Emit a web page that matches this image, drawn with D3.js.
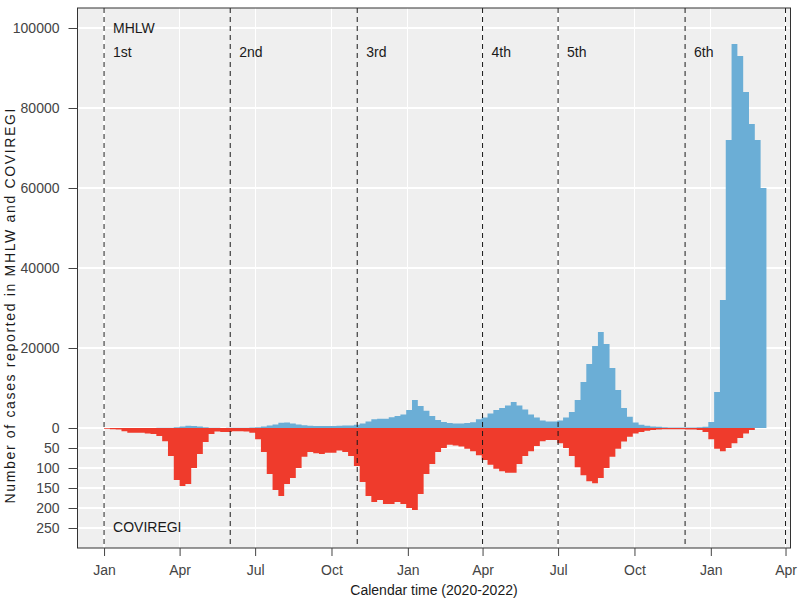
<!DOCTYPE html>
<html>
<head>
<meta charset="utf-8">
<script src="https://cdn.jsdelivr.net/npm/d3@7"></script>
<style>
  body { margin: 0; background: #fff; }
  text { font-family: "Liberation Sans", Arial, sans-serif; }
</style>
</head>
<body>
<div id="chart-area"></div>
<script>
// weekly values, first week starts 2020-01-01
var weekStart = new Date(2020, 0, 1);

// daily cases reported to MHLW (weekly level)
var mhlwWeekly = [
  0, 0, 1, 2, 2, 3, 5, 10, 20, 35,
  45, 60, 200, 350, 550, 500, 350, 200, 80, 40,
  30, 35, 40, 50, 60, 100, 200, 350, 600, 900,
  1300, 1350, 1150, 900, 700, 550, 520, 500, 500, 520,
  550, 600, 650, 800, 1100, 1600, 2200, 2300, 2300, 2700,
  3000, 3400, 4500, 7000, 5500, 4300, 3000, 2000, 1500, 1250,
  1100, 1100, 1250, 1450, 2200, 2600, 3600, 4500, 5000, 5600,
  6500, 5600, 4600, 3400, 2600, 1900, 1600, 1600, 1900, 2600,
  4000, 7000, 11500, 16000, 20500, 24000, 21000, 15000, 9500, 5000,
  2800, 1400, 800, 550, 400, 300, 200, 150, 130, 130,
  140, 150, 170, 300, 1500, 9000, 32000, 72000, 96000, 93000,
  84000, 76000, 72000, 60000
];

// daily cases registered in COVIREGI
var coviregiWeekly = [
  2, 3, 4, 8, 12, 12, 12, 14, 15, 20,
  33, 70, 130, 145, 140, 100, 65, 35, 15, 9,
  10, 10, 8, 8, 9, 12, 28, 60, 115, 155,
  170, 140, 125, 100, 72, 60, 63, 65, 62, 62,
  56, 60, 70, 95, 135, 170, 185, 180, 190, 190,
  185, 190, 200, 205, 165, 115, 90, 60, 50, 42,
  44, 46, 52, 58, 68, 80, 92, 102, 108, 112,
  112, 90, 70, 58, 45, 33, 30, 30, 38, 50,
  70, 98, 118, 133, 138, 125, 100, 72, 52, 34,
  22, 14, 10, 7, 5, 4, 3, 3, 3, 3,
  4, 4, 5, 10, 28, 52, 58, 50, 38, 25,
  14, 5
];

var waveDates = ["2020-01-01", "2020-06-01", "2020-11-01", "2021-04-01", "2021-07-01", "2021-12-01", "2022-04-01"];
var waveLabels = ["1st", "2nd", "3rd", "4th", "5th", "6th"];

var monthTickDates = ["2020-01-01", "2020-04-01", "2020-07-01", "2020-10-01",
                      "2021-01-01", "2021-04-01", "2021-07-01", "2021-10-01",
                      "2022-01-01", "2022-04-01"];
var monthTickLabels = ["Jan", "Apr", "Jul", "Oct", "Jan", "Apr", "Jul", "Oct", "Jan", "Apr"];

var upperTicks = [0, 20000, 40000, 60000, 80000, 100000];
var lowerTicks = [50, 100, 150, 200, 250];

var parseDate = d3.timeParse("%Y-%m-%d");
var width = 800, height = 600;
var pLeft = 77.5, pRight = 790.5, pTop = 8, pBottom = 548, zeroY = 428;

var svg = d3.select("#chart-area").append("svg")
    .attr("width", width)
    .attr("height", height);

var x = d3.scaleTime()
    .domain([new Date(2019, 10, 30), new Date(2022, 3, 7)])
    .range([pLeft, pRight]);

var yTop = d3.scaleLinear().domain([0, 105000]).range([zeroY, pTop]);
var yBot = d3.scaleLinear().domain([0, 300]).range([zeroY, pBottom]);

// panel background
svg.append("rect")
    .attr("x", pLeft).attr("y", pTop)
    .attr("width", pRight - pLeft).attr("height", pBottom - pTop)
    .attr("fill", "#efefef");

// grid
var grid = svg.append("g").attr("shape-rendering", "crispEdges");
upperTicks.forEach(function(t) {
  grid.append("line").attr("x1", pLeft).attr("x2", pRight)
      .attr("y1", yTop(t)).attr("y2", yTop(t))
      .attr("stroke", "#fff").attr("stroke-width", 1.2);
});
lowerTicks.forEach(function(t) {
  grid.append("line").attr("x1", pLeft).attr("x2", pRight)
      .attr("y1", yBot(t)).attr("y2", yBot(t))
      .attr("stroke", "#fff").attr("stroke-width", 1.2);
});
monthTickDates.forEach(function(d) {
  grid.append("line").attr("y1", pTop).attr("y2", pBottom)
      .attr("x1", x(parseDate(d))).attr("x2", x(parseDate(d)))
      .attr("stroke", "#fff").attr("stroke-width", 1.2);
});

function toSeries(vals) {
  var s = vals.map(function(v, i) {
    return {date: d3.timeDay.offset(weekStart, 7 * i), value: v};
  });
  // close the last step
  s.push({date: d3.timeDay.offset(weekStart, 7 * vals.length), value: vals[vals.length - 1]});
  return s;
}

var mhlw = toSeries(mhlwWeekly);
var coviregi = toSeries(coviregiWeekly);

svg.append("path")
    .datum(mhlw)
    .attr("fill", "#6baed6")
    .attr("d", d3.area()
        .curve(d3.curveStepAfter)
        .x(function(d) { return x(d.date); })
        .y0(zeroY)
        .y1(function(d) { return yTop(d.value); }));

svg.append("path")
    .datum(coviregi)
    .attr("fill", "#ef3b2c")
    .attr("d", d3.area()
        .curve(d3.curveStepAfter)
        .x(function(d) { return x(d.date); })
        .y0(zeroY)
        .y1(function(d) { return yBot(d.value); }));

// wave boundaries
waveDates.forEach(function(d, i) {
  var xx = x(parseDate(d));
  svg.append("line")
      .attr("x1", xx).attr("x2", xx)
      .attr("y1", pTop).attr("y2", pBottom)
      .attr("stroke", "#1a1a1a")
      .attr("stroke-width", 1)
      .attr("stroke-dasharray", "5,4");
  if (i < waveLabels.length) {
    svg.append("text")
        .attr("x", xx + 9).attr("y", 57)
        .attr("font-size", "14px")
        .attr("fill", "#1a1a1a")
        .text(waveLabels[i]);
  }
});

svg.append("text")
    .attr("x", x(parseDate(waveDates[0])) + 9).attr("y", 33)
    .attr("font-size", "14px").attr("fill", "#1a1a1a")
    .text("MHLW");

svg.append("text")
    .attr("x", x(parseDate(waveDates[0])) + 9).attr("y", 532)
    .attr("font-size", "14px").attr("fill", "#1a1a1a")
    .text("COVIREGI");

// panel border
svg.append("rect")
    .attr("x", pLeft).attr("y", pTop)
    .attr("width", pRight - pLeft).attr("height", pBottom - pTop)
    .attr("fill", "none")
    .attr("stroke", "#333")
    .attr("stroke-width", 1);

// axes
function styleAxis(g) {
  g.select(".domain").remove();
  g.selectAll(".tick line").attr("stroke", "#444");
  g.selectAll(".tick text")
      .attr("fill", "#444")
      .attr("font-size", "14px")
      .attr("font-family", "Liberation Sans, Arial, sans-serif");
}

svg.append("g")
    .attr("transform", "translate(" + pLeft + ",0)")
    .call(d3.axisLeft(yTop).tickValues(upperTicks).tickSize(9).tickPadding(9).tickFormat(d3.format("d")))
    .call(styleAxis);

svg.append("g")
    .attr("transform", "translate(" + pLeft + ",0)")
    .call(d3.axisLeft(yBot).tickValues(lowerTicks).tickSize(9).tickPadding(9).tickFormat(d3.format("d")))
    .call(styleAxis);

svg.append("g")
    .attr("transform", "translate(0," + pBottom + ")")
    .call(d3.axisBottom(x)
        .tickValues(monthTickDates.map(parseDate))
        .tickSize(8).tickPadding(9)
        .tickFormat(function(d, i) { return monthTickLabels[i]; }))
    .call(styleAxis);

// axis titles
svg.append("text")
    .attr("x", (pLeft + pRight) / 2).attr("y", 595)
    .attr("text-anchor", "middle")
    .attr("font-size", "14px").attr("fill", "#1a1a1a")
    .text("Calendar time (2020-2022)");

svg.append("text")
    .attr("transform", "translate(15,306) rotate(-90)")
    .attr("text-anchor", "middle")
    .attr("font-size", "14px").attr("fill", "#1a1a1a")
    .attr("textLength", 395)
    .attr("lengthAdjust", "spacing")
    .text("Number of cases reported in MHLW and COVIREGI");
</script>
</body>
</html>
